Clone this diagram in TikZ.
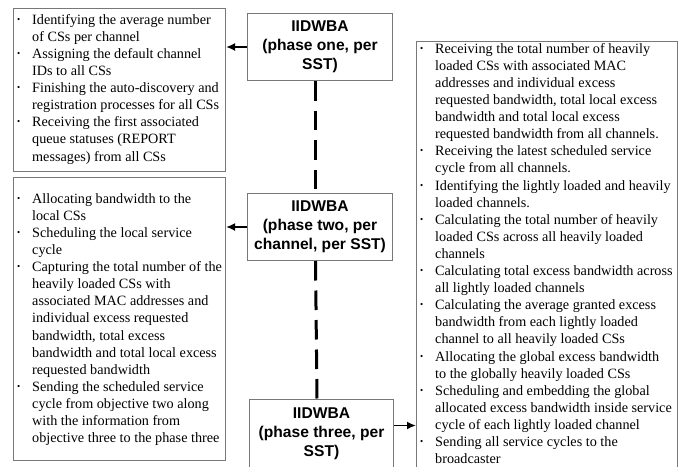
\documentclass[tikz,border=0pt]{standalone}
\usepackage{fontspec}
\setmainfont{Liberation Serif}
\newfontfamily\phasefont{Liberation Sans}
\usetikzlibrary{arrows.meta,calc}
\definecolor{boxgray}{RGB}{120,120,120}
\newcommand\bitem{\rule{0pt}{12pt}\makebox[15pt][l]{\raisebox{2pt}{\fontsize{9}{9}\selectfont\textbullet}}}
\newcommand\cont{\rule{0pt}{12pt}\hspace*{15pt}}
\tikzset{
  frame/.style={draw=boxgray, line width=1pt, inner sep=0pt, anchor=north west},
  phasebox/.style={draw=boxgray, line width=1pt, inner sep=0pt, anchor=north west,
    align=center, font=\phasefont\bfseries\fontsize{15.6pt}{18.8pt}\selectfont},
  listtext/.style={inner sep=0pt, anchor=north west, align=left,
    font=\fontsize{14.2pt}{17.1pt}\selectfont},
  arr/.style={line width=1.8pt, -{Latex[length=9pt,width=8pt]}},
  dashline/.style={line width=3pt, dash pattern=on 19.5pt off 10pt}
}
\begin{document}
\begin{tikzpicture}[x=1pt,y=-1pt]
\useasboundingbox[fill=white] (0,0) rectangle (687,466);
% frames
\node[frame, minimum width=212pt, minimum height=163pt] (b1) at (13,8) {};
\node[frame, minimum width=212pt, minimum height=283pt] (b2) at (13,177) {};
\node[frame, minimum width=261pt, minimum height=431pt] (r) at (416,41) {};
% phase boxes
\node[phasebox, minimum width=145pt, minimum height=67pt] (p1) at (247,13)
  {IIDWBA\\(phase one, per\\SST)};
\node[phasebox, minimum width=145pt, minimum height=67pt] (p2) at (247,193)
  {IIDWBA\\(phase two, per\\channel, per SST)};
\node[phasebox, minimum width=144pt, minimum height=68pt] (p3) at (249,399)
  {IIDWBA\\(phase three, per\\SST)};
% texts
\node[listtext] (t1) at (17,12) {%
\bitem Identifying the average number\\
\cont of CSs per channel\\
\bitem Assigning the default channel\\
\cont IDs to all CSs\\
\bitem Finishing the auto-discovery and\\
\cont registration processes for all CSs\\
\bitem Receiving the first associated\\
\cont queue statuses (REPORT\\
\cont messages) from all CSs};
\node[listtext] (t2) at (17,191) {%
\bitem Allocating bandwidth to the\\
\cont local CSs\\
\bitem Scheduling the local service\\
\cont cycle\\
\bitem Capturing the total number of the\\
\cont heavily loaded CSs with\\
\cont associated MAC addresses and\\
\cont individual excess requested\\
\cont bandwidth, total excess\\
\cont bandwidth and total local excess\\
\cont requested bandwidth\\
\bitem Sending the scheduled service\\
\cont cycle from objective two along\\
\cont with the information from\\
\cont objective three to the phase three};
\node[listtext] (t3) at (420,41) {%
\bitem Receiving the total number of heavily\\
\cont loaded CSs with associated MAC\\
\cont addresses and individual excess\\
\cont requested bandwidth, total local excess\\
\cont bandwidth and total local excess\\
\cont requested bandwidth from all channels.\\
\bitem Receiving the latest scheduled service\\
\cont cycle from all channels.\\
\bitem Identifying the lightly loaded and heavily\\
\cont loaded channels.\\
\bitem Calculating the total number of heavily\\
\cont loaded CSs across all heavily loaded\\
\cont channels\\
\bitem Calculating total excess bandwidth across\\
\cont all lightly loaded channels\\
\bitem Calculating the average granted excess\\
\cont bandwidth from each lightly loaded\\
\cont channel to all heavily loaded CSs\\
\bitem Allocating the global excess bandwidth\\
\cont to the globally heavily loaded CSs\\
\bitem Scheduling and embedding the global\\
\cont allocated excess bandwidth inside service\\
\cont cycle of each lightly loaded channel\\
\bitem Sending all service cycles to the\\
\cont broadcaster};
% connectors
\draw[dashline] ($(p1.south)+(-4.5,0)$) -- ($(p2.north)+(-4.5,0)$);
\draw[dashline] ($(p2.south)+(-4.5,0)$) -- ($(p3.north)+(-4.5,0)$);
\draw[arr] (p1.west) -- (p1.west -| b1.east);
\draw[arr] (p2.west) -- (p2.west -| b2.east);
\coordinate (a3) at ($(p3.east)+(0,-8)$);
\draw[arr] (a3) -- (a3 -| r.west);
\end{tikzpicture}
\end{document}
